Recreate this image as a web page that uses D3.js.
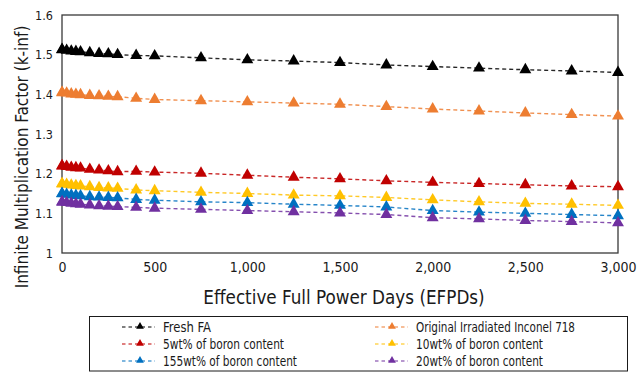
<!DOCTYPE html>
<html>
<head>
<meta charset="utf-8">
<script src="https://cdn.jsdelivr.net/npm/d3@7"></script>
<style>
  html, body { margin: 0; padding: 0; background: #fff; }
  svg { display: block; }
  text { font-family: "DejaVu Sans Condensed", "Liberation Sans Narrow", sans-serif; fill: #1a1a1a; }
</style>
</head>
<body>
<svg id="chart" width="643" height="372"></svg>
<script>
// Burnup steps (EFPD)
const efpd = [0, 1, 25, 50, 75, 100, 150, 200, 250, 300, 400, 500, 750, 1000, 1250, 1500, 1750, 2000, 2250, 2500, 2750, 3000];

// k-inf per burnup step for each fuel assembly case
const freshFA = [1.513, 1.512, 1.511, 1.509, 1.508, 1.507, 1.505, 1.503, 1.502, 1.500, 1.498, 1.497, 1.492, 1.487, 1.484, 1.480, 1.474, 1.470, 1.466, 1.462, 1.459, 1.455];
const inconel718 = [1.405, 1.404, 1.403, 1.401, 1.400, 1.399, 1.397, 1.396, 1.395, 1.394, 1.390, 1.387, 1.384, 1.381, 1.378, 1.375, 1.369, 1.363, 1.358, 1.353, 1.349, 1.345];
const boron5 = [1.220, 1.219, 1.218, 1.216, 1.215, 1.214, 1.211, 1.209, 1.207, 1.205, 1.206, 1.204, 1.201, 1.196, 1.191, 1.187, 1.182, 1.178, 1.175, 1.172, 1.169, 1.167];
const boron10 = [1.175, 1.174, 1.173, 1.171, 1.170, 1.169, 1.167, 1.165, 1.164, 1.163, 1.159, 1.157, 1.153, 1.150, 1.146, 1.144, 1.140, 1.134, 1.129, 1.125, 1.123, 1.120];
const boron15 = [1.150, 1.149, 1.148, 1.146, 1.145, 1.144, 1.142, 1.141, 1.140, 1.139, 1.135, 1.133, 1.129, 1.127, 1.123, 1.120, 1.116, 1.107, 1.103, 1.100, 1.097, 1.094];
const boron20 = [1.129, 1.128, 1.127, 1.125, 1.124, 1.123, 1.121, 1.119, 1.118, 1.117, 1.115, 1.113, 1.110, 1.107, 1.104, 1.101, 1.097, 1.089, 1.086, 1.082, 1.079, 1.076];

const seriesNames = ["Fresh FA", "Original Irradiated Inconel 718", "5wt% of boron content", "10wt% of boron content", "155wt% of boron content", "20wt% of boron content"];
const seriesColors = ["#000000", "#ED7D31", "#C00000", "#FFC000", "#0070C0", "#7030A0"];
const seriesValues = [freshFA, inconel718, boron5, boron10, boron15, boron20];

const xTicks = [0, 500, 1000, 1500, 2000, 2500, 3000];
const yTicks = [1, 1.1, 1.2, 1.3, 1.4, 1.5, 1.6];
const xTitle = "Effective Full Power Days (EFPDs)";
const yTitle = "Infinite Multiplication Factor (k-inf)";

// Legend label widths in px (condensed setting)
const legendLabelWidths = [48, 159, 121, 127, 134, 127];

const svg = d3.select("#chart");
const plot = { left: 62, right: 618, top: 15, bottom: 253 };

const x = d3.scaleLinear().domain([0, 3000]).range([plot.left, plot.right]);
const y = d3.scaleLinear().domain([1, 1.6]).range([plot.bottom, plot.top]);

// Axes (ticks hidden, labels only)
const xAxis = svg.append("g")
  .attr("transform", `translate(0,${plot.bottom})`)
  .call(d3.axisBottom(x).tickValues(xTicks).tickSize(0).tickPadding(9).tickFormat(d3.format(",")));
xAxis.select(".domain").remove();
xAxis.selectAll("text").attr("font-size", 14).style("font-family", null);

const yAxis = svg.append("g")
  .attr("transform", `translate(${plot.left},0)`)
  .call(d3.axisLeft(y).tickValues(yTicks).tickSize(0).tickPadding(9).tickFormat(d => d === 1 ? "1" : d3.format(".1f")(d)));
yAxis.select(".domain").remove();
yAxis.selectAll("text").attr("font-size", 12.5).style("font-family", null);

// Plot frame
svg.append("rect")
  .attr("x", plot.left).attr("y", plot.top)
  .attr("width", plot.right - plot.left).attr("height", plot.bottom - plot.top)
  .attr("fill", "none").attr("stroke", "#3a3a3a").attr("stroke-width", 1.3);

// Series: dashed lines and triangle markers
const line = d3.line().x((d, i) => x(efpd[i])).y(d => y(d));
const tri = d3.symbol().type(d3.symbolTriangle).size(62);

seriesValues.forEach((vals, s) => {
  const g = svg.append("g");
  g.append("path")
    .attr("d", line(vals))
    .attr("fill", "none")
    .attr("stroke", seriesColors[s])
    .attr("stroke-width", 1.4)
    .attr("stroke-dasharray", "4,3")
    .attr("opacity", 0.85);
  g.selectAll("path.m").data(vals).join("path")
    .attr("class", "m")
    .attr("d", tri)
    .attr("transform", (d, i) => `translate(${x(efpd[i])},${y(d)})`)
    .attr("fill", seriesColors[s]);
});

// Axis titles
svg.append("text")
  .attr("x", (plot.left + plot.right) / 2 + 4).attr("y", 303.5)
  .attr("text-anchor", "middle").attr("font-size", 18.7)
  .text(xTitle);

svg.append("text")
  .attr("transform", "translate(27.5,157) rotate(-90)")
  .attr("text-anchor", "middle").attr("font-size", 17)
  .text(yTitle);

// Legend
const legend = svg.append("g");
legend.append("rect")
  .attr("x", 89.5).attr("y", 316.5).attr("width", 538).attr("height", 54.5)
  .attr("fill", "#fff").attr("stroke", "#1a1a1a").attr("stroke-width", 1);

const legTri = d3.symbol().type(d3.symbolTriangle).size(26);
const legendCols = [{ line: 122, marker: 140, text: 163 }, { line: 375, marker: 392, text: 416 }];
seriesNames.forEach((name, s) => {
  const c = legendCols[s % 2], row = Math.floor(s / 2);
  const cy = 327 + row * 17;
  const item = legend.append("g");
  item.append("line")
    .attr("x1", c.line).attr("x2", c.line + 33).attr("y1", cy).attr("y2", cy)
    .attr("stroke", seriesColors[s]).attr("stroke-width", 1.2).attr("stroke-dasharray", "3.5,3");
  item.append("path")
    .attr("d", legTri)
    .attr("transform", `translate(${c.marker},${cy - 0.5})`)
    .attr("fill", seriesColors[s]);
  item.append("text")
    .attr("x", c.text).attr("y", cy)
    .attr("dy", "0.35em").attr("font-size", 14.5)
    .attr("textLength", legendLabelWidths[s])
    .attr("lengthAdjust", "spacingAndGlyphs")
    .text(name);
});
</script>
</body>
</html>
